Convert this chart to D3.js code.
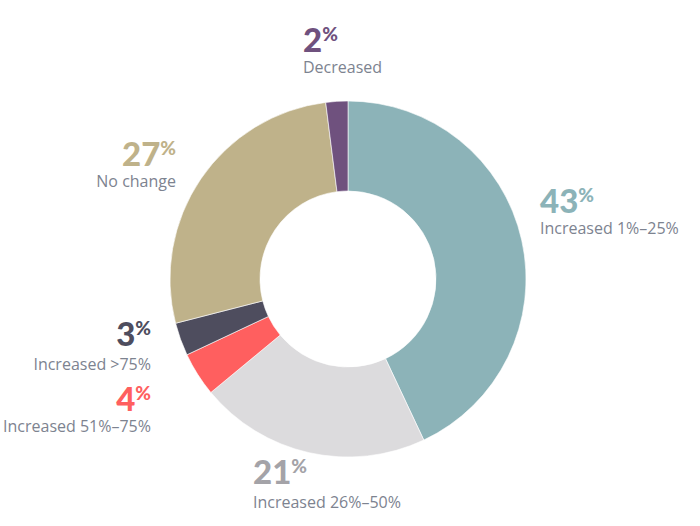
<!DOCTYPE html>
<html>
<head>
<meta charset="utf-8">
<script src="https://cdn.jsdelivr.net/npm/d3@7"></script>
<style>
  body { margin: 0; background: #fff; }
  svg { display: block; font-family: Lato, "Open Sans", sans-serif; }
  .num { font-weight: 900; font-size: 33px; }
  .pct { font-weight: 900; font-size: 19px; }
  .lbl { font-family: "Open Sans", sans-serif; font-size: 16px; fill: #7d8390; }
</style>
</head>
<body>
<div id="chart"></div>
<script>
// Data, clockwise from 12 o'clock
const categories = ['Increased 1%\u201325%', 'Increased 26%\u201350%', 'Increased 51%\u201375%', 'Increased >75%', 'No change', 'Decreased'];
const values = [43, 21, 4, 3, 27, 2];
const colors = ['#8cb3b8', '#dcdbdd', '#ff5f5f', '#4e4d5e', '#bfb28a', '#6f517e'];
const numColors = ['#8cb3b8', '#a4a3a8', '#ff5f5f', '#4e4d5e', '#bfb28a', '#6f517e'];

// label placement (x, y of number baseline, anchor)
const labelPos = [
    [540, 213, 'start'],
    [253, 484, 'start'],
    [151, 411, 'end'],
    [151, 346, 'end'],
    [176, 166, 'end'],
    [303, 52, 'start']
];

const width = 700, height = 526;
const cx = 348, cy = 279;
const outerR = 178, innerR = 88;

const svg = d3.select('#chart')
    .append('svg')
    .attr('width', width)
    .attr('height', height);

const data = categories.map((c, i) => ({ name: c, value: values[i], i: i }));

const pie = d3.pie()
    .value(d => d.value)
    .sort(null);

const arc = d3.arc()
    .innerRadius(innerR)
    .outerRadius(outerR);

const g = svg.append('g')
    .attr('transform', `translate(${cx},${cy})`);

g.selectAll('path')
    .data(pie(data))
    .enter()
    .append('path')
    .attr('d', arc)
    .attr('fill', d => colors[d.data.i])
    .attr('stroke', '#fff')
    .attr('stroke-width', 0.6);

// Labels
const labels = svg.append('g')
    .selectAll('g')
    .data(data)
    .enter()
    .append('g')
    .attr('transform', d => `translate(${labelPos[d.i][0]},${labelPos[d.i][1]})`);

const num = labels.append('text')
    .attr('text-anchor', d => labelPos[d.i][2])
    .attr('fill', d => numColors[d.i]);

num.append('tspan')
    .attr('class', 'num')
    .text(d => d.value);

num.append('tspan')
    .attr('class', 'pct')
    .attr('dy', -11)
    .text('%');

labels.append('text')
    .attr('class', 'lbl')
    .attr('y', d => d.i === 1 || d.i === 3 ? 24 : 21)
    .attr('text-anchor', d => labelPos[d.i][2])
    .text(d => d.name);
</script>
</body>
</html>
